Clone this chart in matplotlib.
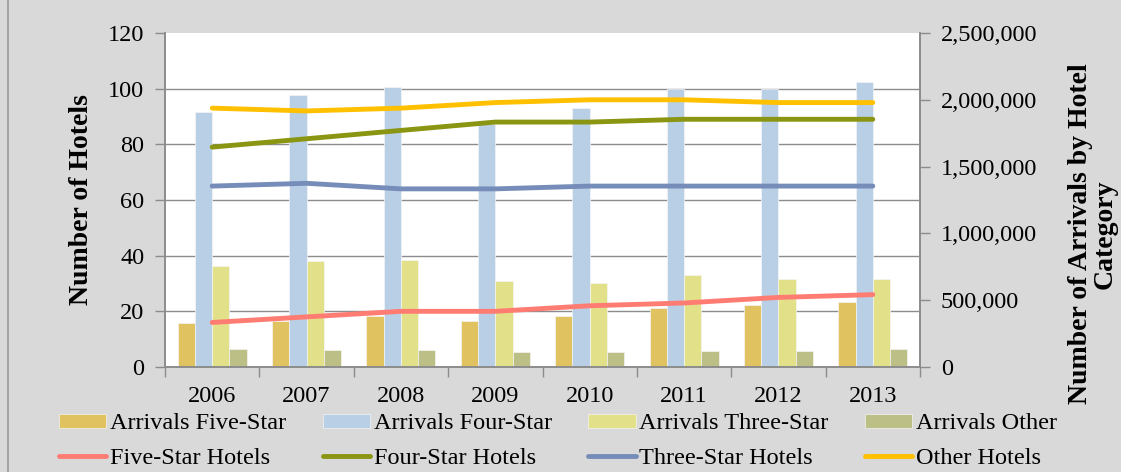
import numpy as np
import matplotlib.pyplot as plt
from matplotlib.ticker import FuncFormatter, MultipleLocator, FixedLocator
from matplotlib.lines import Line2D

# Data
years = ["2006", "2007", "2008", "2009", "2010", "2011", "2012", "2013"]
arrivals_five = [332000, 342000, 385000, 342000, 385000, 442000, 462000, 484000]
arrivals_four = [1909000, 2036000, 2094000, 1820000, 1936000, 2084000, 2081000, 2136000]
arrivals_three = [759000, 791000, 801000, 641000, 632000, 692000, 656000, 656000]
arrivals_other = [132000, 130000, 130000, 110000, 112000, 120000, 118000, 132000]
hotels_five = [16, 18, 20, 20, 22, 23, 25, 26]
hotels_four = [79, 82, 85, 88, 88, 89, 89, 89]
hotels_three = [65, 66, 64, 64, 65, 65, 65, 65]
hotels_other = [93, 92, 93, 95, 96, 96, 95, 95]

plt.rcParams["font.family"] = ["Liberation Serif", "DejaVu Serif"]
FS = 17.5

fig = plt.figure(figsize=(11.21, 4.72), dpi=100, facecolor="#d9d9d9")
ax = fig.add_axes([165 / 1121, 1 - 367 / 472, 755 / 1121, 334 / 472])
ax.set_facecolor("white")

x = np.arange(len(years))
w = 0.183
bar_specs = [
    (arrivals_five, "#e0c360", "Arrivals Five-Star"),
    (arrivals_four, "#b9cfe6", "Arrivals Four-Star"),
    (arrivals_three, "#e3e08a", "Arrivals Three-Star"),
    (arrivals_other, "#bcbf86", "Arrivals Other"),
]
bar_handles = []
for i, (vals, col, lab) in enumerate(bar_specs):
    b = ax.bar(x + (i - 1.5) * w, vals, w, color=col, label=lab, zorder=2,
               edgecolor="#f4f4f4", linewidth=0.5)
    bar_handles.append(b)

# Lines on the left axis (twin drawn on top of the bars)
ax2 = ax.twinx()
line_specs = [
    (hotels_five, "#ff7c73", "Five-Star Hotels"),
    (hotels_four, "#8a9511", "Four-Star Hotels"),
    (hotels_three, "#778db9", "Three-Star Hotels"),
    (hotels_other, "#ffc000", "Other Hotels"),
]
line_handles = []
for vals, col, lab in line_specs:
    (ln,) = ax2.plot(x, vals, color=col, linewidth=3.5, solid_capstyle="round",
                     label=lab, zorder=3)
    line_handles.append(ln)

# right axis: arrivals
ax.set_ylim(0, 2500000)
ax.set_xlim(-0.5, len(years) - 0.5)
ax.yaxis.tick_right()
ax.yaxis.set_major_locator(MultipleLocator(500000))
ax.yaxis.set_major_formatter(FuncFormatter(lambda v, p: f"{int(v):,}"))
# horizontal gridlines follow the left (hotel) scale, 20 per step
ax.yaxis.set_minor_locator(MultipleLocator(2500000 / 6))
ax.grid(axis="y", which="minor", color="#8c8c8c", linewidth=1.0, zorder=0)
ax.set_axisbelow(True)
ax.tick_params(axis="y", which="minor", length=0)
ax.tick_params(axis="y", which="major", direction="out", length=7, width=1,
               color="#8c8c8c", labelsize=FS, pad=8)

ax.set_xticks(x)
ax.set_xticklabels(years)
ax.xaxis.set_minor_locator(FixedLocator(np.arange(-0.5, len(years), 1.0)))
ax.tick_params(axis="x", which="major", length=0, labelsize=FS, pad=14)
ax.tick_params(axis="x", which="minor", direction="out", length=7, width=1,
               color="#8c8c8c")

# left axis: hotels
ax2.yaxis.tick_left()
ax2.set_ylim(0, 120)
ax2.yaxis.set_major_locator(MultipleLocator(20))
ax2.tick_params(axis="y", direction="out", length=7, width=1, color="#8c8c8c",
                labelsize=FS, pad=8)

for a in (ax, ax2):
    for s in a.spines.values():
        s.set_color("#8c8c8c")
        s.set_linewidth(1.2)
    a.spines["top"].set_visible(False)

fig.text(82 / 1121, 1 - 200 / 472, "Number of Hotels", rotation=90,
         ha="center", va="center", fontsize=20, fontweight="bold")
fig.text(1093 / 1121, 1 - 234 / 472, "Number of Arrivals by Hotel\nCategory",
         rotation=90, ha="center", va="center", multialignment="center",
         fontsize=20, fontweight="bold", linespacing=0.95)

# Legend: bars on the first row, lines on the second
handles, labels = [], []
for b, ln in zip(bar_handles, line_handles):
    handles += [b, ln]
    labels += [b.get_label(), ln.get_label()]
fig.legend(handles, labels, ncol=4, loc="center",
           bbox_to_anchor=(558 / 1121, 1 - 441 / 472), frameon=False,
           fontsize=FS, handlelength=1.95, handleheight=0.5,
           handletextpad=0.15, columnspacing=1.5, labelspacing=0.55,
           borderpad=0)

fig.add_artist(Line2D([8 / 1121, 8 / 1121], [0, 1], transform=fig.transFigure,
                      color="#9a9a9a", linewidth=1.2))

fig.savefig("out.png", dpi=100, facecolor=fig.get_facecolor())
